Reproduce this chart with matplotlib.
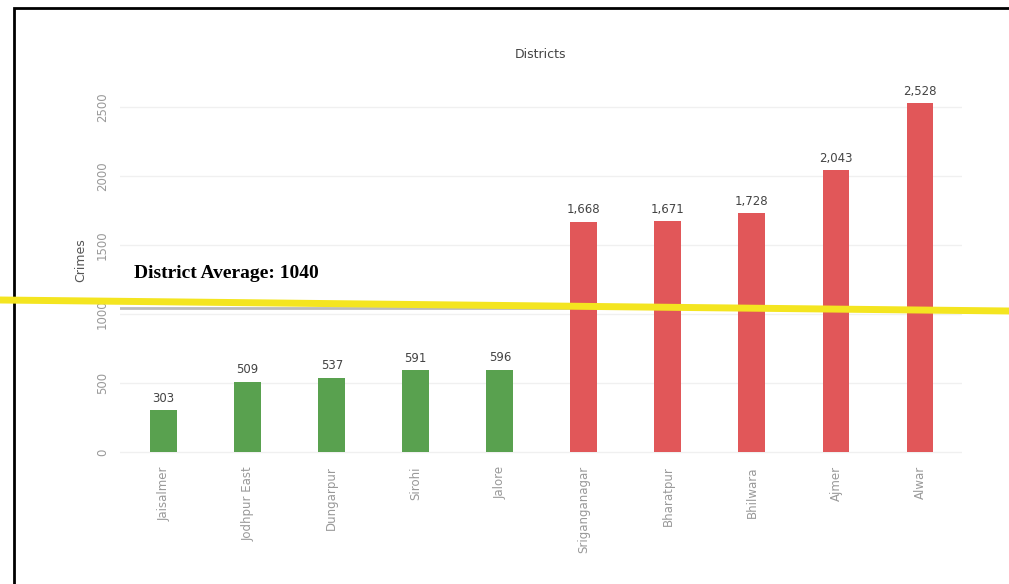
import numpy as np
import matplotlib.pyplot as plt
from matplotlib.patches import Rectangle

# data
districts = ['Jaisalmer', 'Jodhpur East', 'Dungarpur', 'Sirohi', 'Jalore',
             'Sriganganagar', 'Bharatpur', 'Bhilwara', 'Ajmer', 'Alwar']
crimes = [303, 509, 537, 591, 596, 1668, 1671, 1728, 2043, 2528]
average = 1040
yticks = [0, 500, 1000, 1500, 2000, 2500]

green = '#59a14f'
red = '#e15759'
colors = [green if c < average else red for c in crimes]

fig = plt.figure(figsize=(10.09, 5.84), dpi=100)
ax = fig.add_axes([120 / 1009, 1 - 455 / 584, 842 / 1009, 390 / 584])

x = np.arange(len(districts))
ax.bar(x, crimes, width=0.32, color=colors, zorder=2)
for xi, c in zip(x, crimes):
    ax.text(xi, c + 40, f'{c:,}', ha='center', va='bottom', fontsize=8.5, color='#444444')

ax.set_xlim(-0.52, 9.5)
ax.set_ylim(-22, 2804)
ax.set_yticks(yticks)
ax.set_yticklabels([str(t) for t in yticks], rotation=90, va='center', color='#999999', fontsize=8.5)
ax.set_xticks(x)
ax.set_xticklabels(districts, rotation=90, color='#999999', fontsize=8.5)
ax.tick_params(length=0, pad=8)
ax.grid(axis='y', color='#f0f0f0', lw=1, zorder=0)
for s in ax.spines.values():
    s.set_visible(False)
ax.set_ylabel('Crimes', fontsize=9, color='#555555', labelpad=6)
ax.set_title('Districts', fontsize=9, color='#444444', pad=5)

# gray average line and label
ax.plot([-0.52, 4.85], [average, average], color='#bbbbbb', lw=2, zorder=1)
ax.text(-0.35, 1290, f'District Average: {average}', family='Liberation Serif',
        fontsize=14, fontweight='bold', color='black', va='center')

# yellow marker line across the figure
fig.add_artist(plt.Line2D([0, 1], [1 - 300 / 584, 1 - 311 / 584], color='#f4e520', lw=5,
                          transform=fig.transFigure))

# frame border
fig.add_artist(Rectangle((14 / 1009, -0.1), 1.2, 1 - 8 / 584 + 0.1, fill=False,
                         edgecolor='black', lw=2, transform=fig.transFigure))

fig.savefig('out.png', dpi=100)
